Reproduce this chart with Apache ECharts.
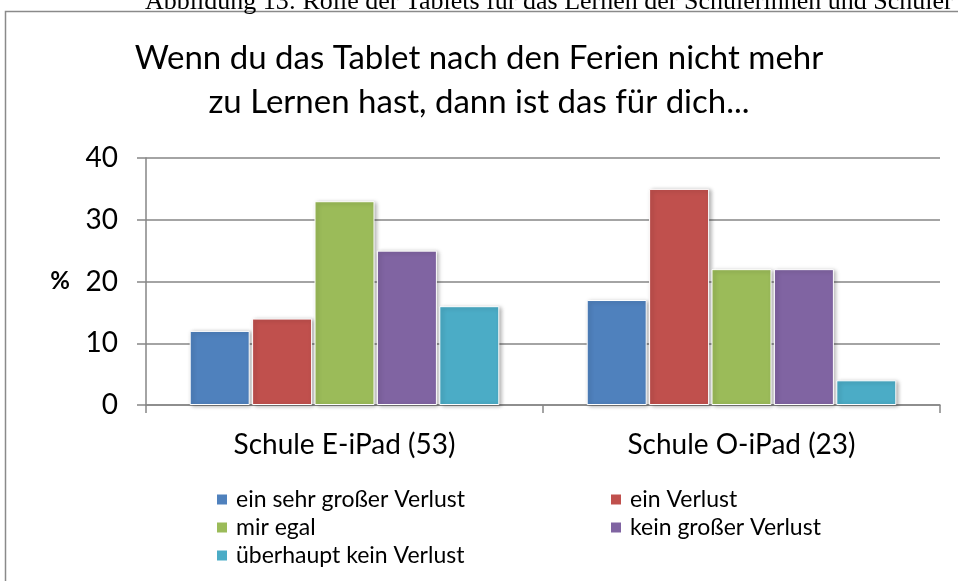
<!DOCTYPE html>
<html>
<head>
<meta charset="utf-8">
<script src="https://cdn.jsdelivr.net/npm/echarts@6/dist/echarts.min.js"></script>
<style>
    html, body { margin: 0; padding: 0; background: #fff; }
    #chart { width: 958px; height: 581px; }
</style>
</head>
<body>
<div id="chart"></div>
<script>
    const categories = ['Schule E-iPad (53)', 'Schule O-iPad (23)'];
    const seriesNames = ['ein sehr großer Verlust', 'ein Verlust', 'mir egal', 'kein großer Verlust', 'überhaupt kein Verlust'];
    const sehrGross = [12, 17];
    const verlust = [14, 35];
    const egal = [33, 22];
    const keinGross = [25, 22];
    const keinVerlust = [16, 4];
    const colors = ['#4F81BD', '#C0504D', '#9BBB59', '#8064A2', '#4BACC6'];
    const yTicks = [0, 10, 20, 30, 40];

    const font = 'Lato, "Open Sans", sans-serif';
    const chart = echarts.init(document.getElementById('chart'));
    const values = [sehrGross, verlust, egal, keinGross, keinVerlust];

    const legendText = { fontFamily: font, fontSize: 23, color: '#000', padding: [0, 0, 0, 3] };

    const option = {
        animation: false,
        color: colors,
        textStyle: { fontFamily: font, color: '#000' },
        title: {
            text: 'Wenn du das Tablet nach den Ferien nicht mehr\nzu Lernen hast, dann ist das für dich...',
            left: 'center',
            top: 31,
            textStyle: { fontFamily: font, fontSize: 33, fontWeight: 'normal', lineHeight: 44, color: '#000' }
        },
        graphic: [
            {
                type: 'rect',
                shape: { x: 5.5, y: 11.5, width: 1000, height: 600 },
                style: { fill: 'none', stroke: '#8a8a8a', lineWidth: 1.5 },
                silent: true
            },
            {
                type: 'text',
                style: {
                    text: 'Abbildung 13: Rolle der Tablets für das Lernen der Schülerinnen und Schüler',
                    x: 145, y: 15, verticalAlign: 'bottom',
                    fontFamily: '"Liberation Serif", "DejaVu Serif", serif',
                    fontSize: 26, fill: '#000'
                },
                silent: true
            }
        ],
        legend: [
            {
                data: [seriesNames[0], seriesNames[2], seriesNames[4]],
                orient: 'vertical',
                left: 210, top: 483,
                itemWidth: 12, itemHeight: 12, itemGap: 5,
                icon: 'rect',
                textStyle: legendText
            },
            {
                data: [seriesNames[1], seriesNames[3]],
                orient: 'vertical',
                left: 604, top: 483,
                itemWidth: 12, itemHeight: 12, itemGap: 5,
                icon: 'rect',
                textStyle: legendText
            }
        ],
        grid: { left: 146, right: 18, top: 158, bottom: 176, containLabel: false },
        xAxis: {
            type: 'category',
            data: categories,
            axisLine: { lineStyle: { color: '#868686', width: 1.5 } },
            axisTick: { show: true, length: 8, lineStyle: { color: '#868686', width: 1.5 } },
            axisLabel: { fontFamily: font, fontSize: 28, color: '#000', margin: 26 }
        },
        yAxis: {
            type: 'value',
            min: yTicks[0],
            max: yTicks[yTicks.length - 1],
            interval: 10,
            name: '%',
            nameLocation: 'middle',
            nameRotate: 0,
            nameGap: 76,
            nameTextStyle: { fontFamily: font, fontSize: 24, fontWeight: 'bold', color: '#000' },
            axisLine: { show: true, lineStyle: { color: '#868686', width: 1.5 } },
            axisTick: { show: true, length: 9, lineStyle: { color: '#868686', width: 1.5 } },
            splitLine: { lineStyle: { color: '#868686', width: 1.5 } },
            axisLabel: { fontFamily: font, fontSize: 28, color: '#000', margin: 28 }
        },
        series: seriesNames.map((name, i) => ({
            name: name,
            type: 'bar',
            data: values[i],
            barWidth: 60,
            barGap: '4%',
            itemStyle: {
                color: colors[i],
                borderColor: '#fff',
                borderWidth: 1,
                shadowBlur: 4,
                shadowColor: 'rgba(0,0,0,0.3)',
                shadowOffsetX: 2,
                shadowOffsetY: 1
            }
        }))
    };

    chart.setOption(option);
</script>
</body>
</html>
